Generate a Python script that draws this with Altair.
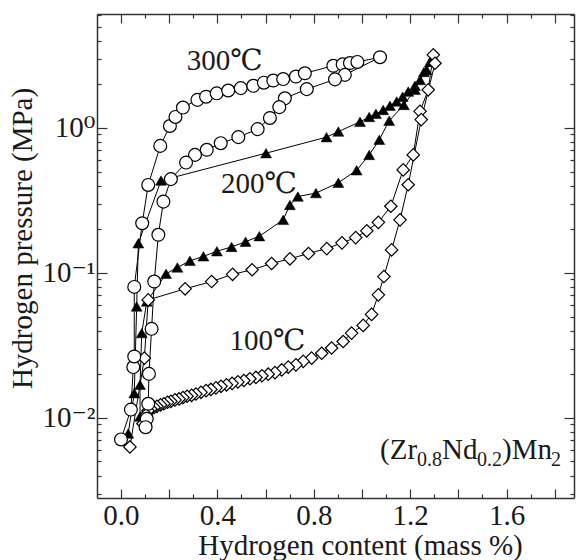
import altair as alt
import pandas as pd

# ---------------- data ----------------
# 300 C  (open circles)
x300_abs = [0.000, 0.041, 0.051, 0.055, 0.055, 0.088, 0.113, 0.163, 0.203, 0.226, 0.257, 0.317, 0.353,
            0.397, 0.445, 0.497, 0.549, 0.593, 0.632, 0.673, 0.726, 0.763, 0.881, 0.920, 0.950, 0.981, 1.075]
p300_abs = [0.0071, 0.0114, 0.0224, 0.0265, 0.080, 0.220, 0.404, 0.751, 1.03, 1.19, 1.38, 1.56, 1.64,
            1.73, 1.81, 1.88, 1.95, 2.05, 2.12, 2.17, 2.26, 2.38, 2.68, 2.74, 2.80, 2.85, 3.07]
x300_des = [1.075, 0.929, 0.888, 0.771, 0.680, 0.657, 0.618, 0.567, 0.487, 0.414, 0.356, 0.307, 0.270,
            0.207, 0.176, 0.155, 0.138, 0.127, 0.116, 0.113, 0.107, 0.102]
p300_des = [3.07, 2.32, 2.16, 1.85, 1.60, 1.39, 1.17, 0.98, 0.863, 0.784, 0.706, 0.651, 0.576,
            0.443, 0.310, 0.183, 0.0871, 0.0411, 0.0201, 0.0125, 0.00985, 0.00862]

# 200 C  (filled triangles)
x200_abs = [0.030, 0.055, 0.065, 0.072, 0.166, 0.602, 0.853, 0.902, 0.992, 1.030, 1.058, 1.088, 1.116,
            1.144, 1.169, 1.192, 1.220, 1.241, 1.268, 1.296]
p200_abs = [0.0078, 0.0148, 0.0586, 0.160, 0.433, 0.669, 0.863, 0.943, 1.10, 1.19, 1.25, 1.33, 1.42,
            1.52, 1.64, 1.78, 1.95, 2.14, 2.51, 3.10]
x200_des = [1.296, 1.282, 1.257, 1.220, 1.174, 1.113, 1.072, 1.030, 0.978, 0.902, 0.809, 0.734, 0.701,
            0.673, 0.574, 0.517, 0.459, 0.398, 0.342, 0.286, 0.234, 0.187, 0.107, 0.086, 0.079, 0.079]
p200_des = [3.10, 2.85, 2.43, 1.83, 1.44, 1.12, 0.827, 0.651, 0.510, 0.418, 0.355, 0.336, 0.294,
            0.232, 0.179, 0.164, 0.151, 0.141, 0.130, 0.121, 0.109, 0.0985, 0.0634, 0.0384, 0.0169, 0.0102]

# 100 C  (open diamonds)
x100_abs = [0.037, 0.097, 0.113, 0.266, 0.376, 0.463, 0.544, 0.625, 0.701, 0.778, 0.854, 0.917, 0.974,
            1.020, 1.068, 1.120, 1.171, 1.213, 1.241, 1.275, 1.296]
p100_abs = [0.0063, 0.0258, 0.0651, 0.0776, 0.0871, 0.0977, 0.105, 0.116, 0.125, 0.136, 0.147, 0.161, 0.175,
            0.195, 0.223, 0.288, 0.513, 0.651, 1.30, 1.83, 3.19]
x100_des = [1.296, 1.303, 1.246, 1.192, 1.158, 1.123, 1.091, 1.068, 1.040, 1.005, 0.957, 0.922, 0.874,
            0.833, 0.791, 0.756, 0.726, 0.694, 0.667, 0.639, 0.611, 0.585, 0.560, 0.535, 0.510, 0.485,
            0.461, 0.438, 0.415, 0.394, 0.373, 0.353, 0.332, 0.311, 0.293, 0.274, 0.257, 0.241, 0.224,
            0.207, 0.193, 0.178, 0.164, 0.149, 0.137, 0.124, 0.112, 0.104, 0.091]
p100_des = [3.19, 2.79, 1.14, 0.405, 0.232, 0.144, 0.0943, 0.0705, 0.0517, 0.0434, 0.0384, 0.0336, 0.0303,
            0.0279, 0.0258, 0.0245, 0.0232, 0.0224, 0.0214, 0.0205, 0.0200, 0.0195, 0.0190, 0.0186, 0.0181,
            0.0177, 0.0173, 0.0169, 0.0165, 0.0161, 0.0157, 0.0154, 0.0150, 0.0146, 0.0143, 0.0141, 0.0138,
            0.0135, 0.0133, 0.0130, 0.0128, 0.0125, 0.0123, 0.0120, 0.0118, 0.0115, 0.0112, 0.0105, 0.0091]

temp_labels = ["300℃", "200℃", "100℃"]
temp_label_x = [0.43, 0.573, 0.608]
temp_label_p = [2.51, 0.356, 0.0294]

x_tick_values = [0.0, 0.1, 0.2, 0.3, 0.4, 0.5, 0.6, 0.7, 0.8, 0.9, 1.0, 1.1, 1.2, 1.3, 1.4, 1.5, 1.6, 1.7, 1.8]
y_tick_values = [0.003, 0.004, 0.005, 0.006, 0.007, 0.008, 0.009,
                 0.01, 0.02, 0.03, 0.04, 0.05, 0.06, 0.07, 0.08, 0.09,
                 0.1, 0.2, 0.3, 0.4, 0.5, 0.6, 0.7, 0.8, 0.9,
                 1, 2, 3, 4, 5, 6]
y_label_text = {0.01: "10⁻²", 0.1: "10⁻¹", 1: "10⁰"}

# ---------------- tables ----------------
rows = []
for T, xa, pa, xd, pdes in [("300", x300_abs, p300_abs, x300_des, p300_des),
                             ("200", x200_abs, p200_abs, x200_des, p200_des),
                             ("100", x100_abs, p100_abs, x100_des, p100_des)]:
    seq = list(zip(xa, pa)) + list(zip(xd[1:], pdes[1:]))
    for i, (xv, pv) in enumerate(seq):
        rows.append({"x": xv, "p": pv, "T": T, "order": i})
df = pd.DataFrame(rows)

ann = pd.DataFrame({"label": temp_labels, "x": temp_label_x, "p": temp_label_p})

FONT = "'Liberation Serif', 'Times New Roman', Times, 'DejaVu Serif', serif"
INK = "#1a1a1a"
AX = "#333333"

xscale = alt.Scale(domain=[-0.0996, 1.880], nice=False, zero=False)
yscale = alt.Scale(type="log", domain=[0.0028, 6.1], nice=False)

xmajor = "abs(datum.value*5 - round(datum.value*5)) < 0.01"
ymajor = "abs(log(datum.value)/LN10 - round(log(datum.value)/LN10)) < 0.01"

y_label_expr = " : ".join(
    [f"datum.value == {v} ? '{t}'" for v, t in y_label_text.items()] + ["''"])
x_label_expr = "abs(datum.value/0.4 - round(datum.value/0.4)) < 0.01 ? format(datum.value, '.1f') : ''"

common = dict(domainColor=AX, domainWidth=1.5, tickColor=AX, tickWidth=1.2, grid=False,
              labelFont=FONT, labelFontSize=29, labelColor=INK, labelOverlap=False, labelFlush=False,
              titleFont=FONT, titleFontSize=29, titleFontWeight="normal", titleColor=INK)

x_bottom = alt.Axis(orient="bottom", values=x_tick_values, labelExpr=x_label_expr,
                    tickSize={"condition": {"test": xmajor, "value": -9}, "value": -4},
                    labelPadding=12, labelBaseline="top",
                    title="Hydrogen content (mass %)", titleX=263, titleY=56,
                    titleBaseline="alphabetic", titleAlign="center", **common)
y_left = alt.Axis(orient="left", values=y_tick_values, labelExpr=y_label_expr,
                  tickSize={"condition": {"test": ymajor, "value": -10}, "value": -4},
                  labelPadding=12, labelBaseline="middle",
                  title="Hydrogen pressure (MPa)", titleX=-66, titleY=224, titleAngle=-90,
                  titleBaseline="alphabetic", titleAlign="center", **common)
x_top = alt.Axis(orient="top", values=x_tick_values, labels=False, title=None,
                 tickSize={"condition": {"test": xmajor, "value": -9}, "value": -4},
                 domainColor=AX, domainWidth=1.5, tickColor=AX, tickWidth=1.2, grid=False)
y_right = alt.Axis(orient="right", values=y_tick_values, labels=False, title=None,
                   tickSize={"condition": {"test": ymajor, "value": -10}, "value": -4},
                   domainColor=AX, domainWidth=1.5, tickColor=AX, tickWidth=1.2, grid=False)

X = alt.X("x:Q", scale=xscale, axis=x_bottom)
Y = alt.Y("p:Q", scale=yscale, axis=y_left)

base = alt.Chart(df)
lines = base.mark_line(color="black", strokeWidth=1).encode(X, Y, detail="T:N", order="order:Q")
tri = base.transform_filter(alt.datum.T == "200").mark_point(
    shape="triangle-up", filled=True, fill="black", stroke="black", strokeWidth=0.5, size=120, opacity=1
).encode(X, Y)
dia = base.transform_filter(alt.datum.T == "100").mark_point(
    shape="diamond", filled=True, fill="white", stroke="black", strokeWidth=1.2, size=155, opacity=1
).encode(X, Y)
circ = base.transform_filter(alt.datum.T == "300").mark_point(
    shape="circle", filled=True, fill="white", stroke="black", strokeWidth=1.2, size=165, opacity=1
).encode(X, Y)

labels = alt.Chart(ann).mark_text(font=FONT, fontSize=29, color=INK, align="center",
                                  baseline="alphabetic").encode(X, Y, text="label:N")

# compound label (Zr0.8Nd0.2)Mn2 built from pieces with subscripts
formula_x = [1.075]
formula_p = [0.0052]
fdf = pd.DataFrame({"x": formula_x, "p": formula_p})
pieces = [("(Zr", 29, 0, 0), ("0.8", 20, 37, 7), ("Nd", 29, 62, 0),
          ("0.2", 20, 97, 7), (")Mn", 29, 122, 0), ("2", 20, 171, 7)]
formula_layers = [
    alt.Chart(fdf).mark_text(text=t, font=FONT, fontSize=fs, color=INK, align="left",
                             baseline="alphabetic", dx=dx, dy=dy).encode(X, Y)
    for t, fs, dx, dy in pieces
]

data_layer = alt.layer(lines, tri, dia, circ, labels, *formula_layers)

mirror = base.mark_point(opacity=0).encode(
    x=alt.X("x:Q", scale=xscale, axis=x_top),
    y=alt.Y("p:Q", scale=yscale, axis=y_right),
)

chart = alt.layer(data_layer, mirror).resolve_scale(x="independent", y="independent").properties(
    width=477, height=484,
    autosize=alt.AutoSizeParams(type="none"),
    padding={"left": 97, "top": 14, "right": 2, "bottom": 62},
).configure_view(strokeWidth=0).configure(background="white", font=FONT)

chart.save("out.html", embed_options={"renderer": "svg", "actions": False})
